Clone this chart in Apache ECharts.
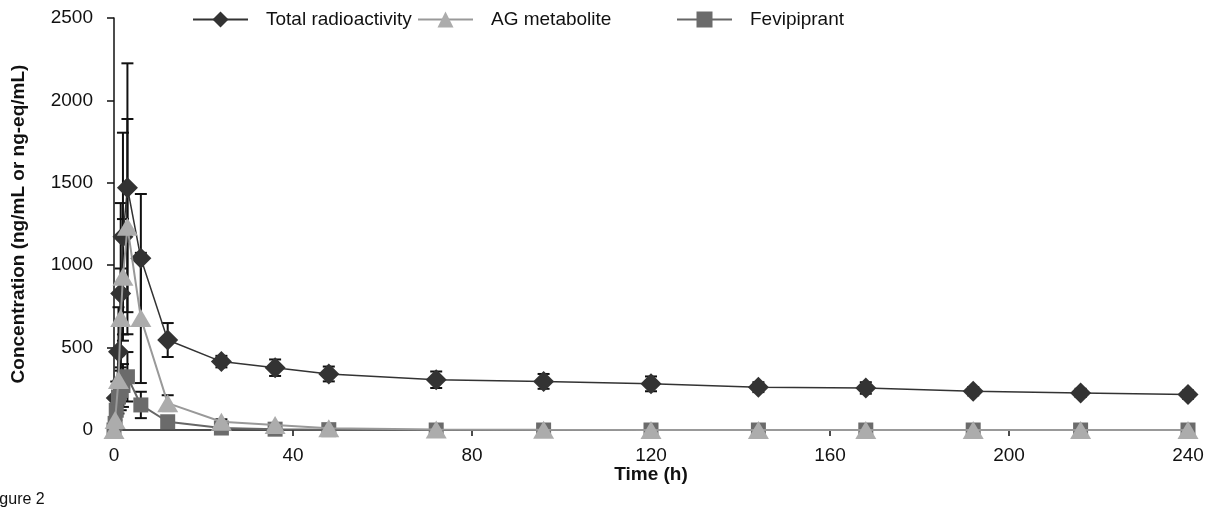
<!DOCTYPE html>
<html>
<head>
<meta charset="utf-8">
<script src="https://cdn.jsdelivr.net/npm/echarts@6/dist/echarts.min.js"></script>
<style>
html,body{margin:0;padding:0;background:#fff;}
#chart{width:1213px;height:508px;}
</style>
</head>
<body>
<div id="chart"></div>
<script>
// ---- data ----
const xTicks = [0, 40, 80, 120, 160, 200, 240];
const yTicks = [0, 500, 1000, 1500, 2000, 2500];

const totalTimes = [0.5, 1, 1.5, 2, 3, 6, 12, 24, 36, 48, 72, 96, 120, 144, 168, 192, 216, 240];
const totalValues = [194, 475, 829, 1173, 1470, 1042, 546, 415, 378, 340, 305, 295, 280, 260, 255, 235, 225, 215];
const totalSD = [100, 270, 548, 631, 755, 390, 103, 35, 50, 45, 50, 45, 45, 30, 35, 25, 25, 25];

const agTimes = [0, 0.25, 1, 1.5, 2, 3, 6, 12, 24, 36, 48, 72, 96, 120, 144, 168, 192, 216, 240];
const agValues = [0, 60, 303, 680, 930, 1234, 680, 163, 50, 30, 10, 3, 1, 0, 0, 0, 0, 0, 0];
const agSD = [0, 30, 150, 300, 350, 653, 395, 48, 15, 10, 5, 2, 0, 0, 0, 0, 0, 0, 0];

const feviTimes = [0, 0.25, 0.5, 1, 1.5, 2, 3, 6, 12, 24, 36, 48, 72, 96, 120, 144, 168, 192, 216, 240];
const feviValues = [0, 40, 120, 200, 240, 270, 323, 152, 50, 12, 5, 2, 0, 0, 0, 0, 0, 0, 0, 0];
const feviSD = [0, 20, 60, 100, 120, 130, 150, 80, 20, 5, 3, 1, 0, 0, 0, 0, 0, 0, 0, 0];

const names = ['Total radioactivity', 'AG metabolite', 'Fevipiprant'];

// ---- build ----
function pairs(t, v) { return t.map((x, i) => [x, v[i]]); }
function triples(t, v, s) { return t.map((x, i) => [x, v[i], s[i]]); }

const FONT = 'Liberation Sans, Arial, sans-serif';
const FS = 19;

function errRender(params, api) {
  const x = api.value(0), v = api.value(1), sd = api.value(2);
  if (!sd) return null;
  const top = api.coord([x, v + sd]);
  const bot = api.coord([x, Math.max(0, v - sd)]);
  const cw = 6;
  const st = { stroke: '#111', lineWidth: 2 };
  return {
    type: 'group',
    children: [
      { type: 'line', shape: { x1: top[0], y1: top[1], x2: bot[0], y2: bot[1] }, style: st },
      { type: 'line', shape: { x1: top[0] - cw, y1: top[1], x2: top[0] + cw, y2: top[1] }, style: st },
      { type: 'line', shape: { x1: bot[0] - cw, y1: bot[1], x2: bot[0] + cw, y2: bot[1] }, style: st }
    ]
  };
}

const chart = echarts.init(document.getElementById('chart'), null, { renderer: 'canvas' });

function legendFor(name, left) {
  return {
    data: [name],
    left: left, top: 10, padding: 0,
    itemWidth: 55, itemHeight: 20,
    selectedMode: false,
    textStyle: { fontSize: FS, color: '#111', fontFamily: FONT, padding: [0, 0, 0, 13] }
  };
}

chart.setOption({
  animation: false,
  backgroundColor: '#fff',
  textStyle: { fontFamily: FONT },
  legend: [legendFor(names[0], 192), legendFor(names[1], 417), legendFor(names[2], 676)],
  grid: { left: 114, right: 25, top: 18, bottom: 78, containLabel: false },
  xAxis: {
    type: 'value', min: xTicks[0], max: xTicks[xTicks.length - 1], interval: 40,
    name: 'Time (h)', nameLocation: 'middle', nameGap: 35, nameMoveOverlap: false,
    nameTextStyle: { fontSize: FS, fontWeight: 'bold', color: '#111', fontFamily: FONT },
    axisLine: { lineStyle: { color: '#111', width: 1.5 } },
    axisTick: { show: true, inside: false, length: 6, lineStyle: { color: '#111', width: 1.5 } },
    axisLabel: { fontSize: FS, color: '#111', margin: 16, fontFamily: FONT },
    splitLine: { show: false }
  },
  yAxis: {
    type: 'value', min: yTicks[0], max: yTicks[yTicks.length - 1], interval: 500,
    name: 'Concentration (ng/mL or ng-eq/mL)', nameLocation: 'middle', nameGap: 86,
    nameTextStyle: { fontSize: FS, fontWeight: 'bold', color: '#111', fontFamily: FONT },
    axisLine: { show: true, lineStyle: { color: '#111', width: 1.5 } },
    axisTick: { show: true, inside: false, length: 7, lineStyle: { color: '#111', width: 1.5 } },
    axisLabel: { fontSize: FS, color: '#111', margin: 21, fontFamily: FONT, formatter: v => String(v) },
    splitLine: { show: false }
  },
  graphic: [
    { type: 'text', left: -14, top: 492, style: { text: 'Figure 2', fontSize: 16, fill: '#111', fontFamily: FONT } }
  ],
  series: [
    { type: 'custom', name: 'errTotal', renderItem: errRender, data: triples(totalTimes, totalValues, totalSD), encode: { x: 0, y: 1 }, z: 1, silent: true },
    { type: 'custom', name: 'errAG', renderItem: errRender, data: triples(agTimes, agValues, agSD), encode: { x: 0, y: 1 }, z: 1, silent: true },
    { type: 'custom', name: 'errFevi', renderItem: errRender, data: triples(feviTimes, feviValues, feviSD), encode: { x: 0, y: 1 }, z: 1, silent: true },
    {
      type: 'line', name: names[0], data: pairs(totalTimes, totalValues), z: 5,
      symbol: 'diamond', symbolSize: [21, 21], showAllSymbol: true,
      lineStyle: { color: '#333', width: 1.5 },
      itemStyle: { color: '#333', borderWidth: 0 }
    },
    {
      type: 'line', name: names[2], data: pairs(feviTimes, feviValues), z: 6,
      symbol: 'rect', symbolSize: [15, 15], showAllSymbol: true,
      lineStyle: { color: '#666', width: 2 },
      itemStyle: { color: '#6b6b6b', borderWidth: 0 }
    },
    {
      type: 'line', name: names[1], data: pairs(agTimes, agValues), z: 7,
      symbol: 'triangle', symbolSize: [21, 18], showAllSymbol: true,
      lineStyle: { color: '#999', width: 2 },
      itemStyle: { color: '#acacac', borderWidth: 0 }
    }
  ]
});
</script>
</body>
</html>
